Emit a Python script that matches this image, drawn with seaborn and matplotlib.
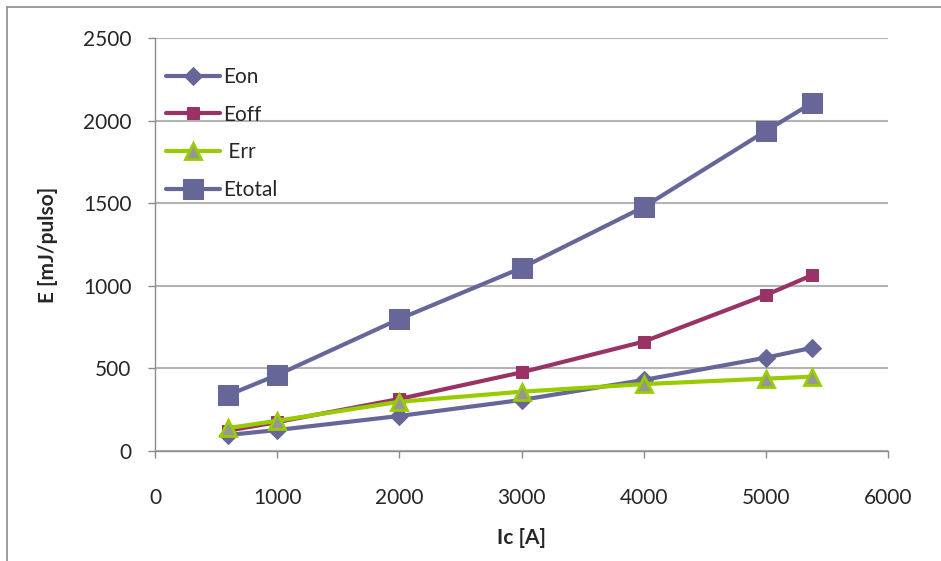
import matplotlib
matplotlib.use("Agg")
import matplotlib.pyplot as plt
from matplotlib.lines import Line2D
import seaborn as sns
import pandas as pd

# Switching energy per pulse versus collector current
ic = [600, 1000, 2000, 3000, 4000, 5000, 5380]
e_on = [97, 127, 212, 309, 430, 565, 625]
e_off = [123, 175, 315, 476, 662, 944, 1065]
e_rr = [139, 183, 298, 359, 405, 438, 450]
e_total = [339, 460, 799, 1108, 1477, 1937, 2107]

series_names = ["Eon", "Eoff", " Err", "Etotal"]
x_ticks = [0, 1000, 2000, 3000, 4000, 5000, 6000]
y_ticks = [0, 500, 1000, 1500, 2000, 2500]

sns.set_theme(style="white")
plt.rcParams["font.family"] = ["Lato", "DejaVu Sans"]

frames = []
for name, vals in zip(series_names, [e_on, e_off, e_rr, e_total]):
    frames.append(pd.DataFrame({"Ic": ic, "E": vals, "serie": name}))
df = pd.concat(frames, ignore_index=True)

styles = {
    "Eon": dict(color="#666699", marker="D", markersize=9,
                markerfacecolor="#666699", markeredgecolor="#666699"),
    "Eoff": dict(color="#993366", marker="s", markersize=8,
                 markerfacecolor="#993366", markeredgecolor="#993366"),
    " Err": dict(color="#99CC00", marker="^", markersize=11,
                 markerfacecolor="#969696", markeredgecolor="#99CC00",
                 markeredgewidth=2),
    "Etotal": dict(color="#666699", marker="s", markersize=14,
                   markerfacecolor="#666699", markeredgecolor="#666699"),
}

fig = plt.figure(figsize=(9.41, 5.61), dpi=100)
ax = fig.add_axes([155 / 941, 1 - 451 / 561, (888 - 155) / 941, (451 - 38) / 561])

for name in series_names:
    sub = df[df["serie"] == name]
    sns.lineplot(data=sub, x="Ic", y="E", ax=ax, label=name, linewidth=3,
                 estimator=None, sort=False, **styles[name])

ax.set_xlim(0, 6000)
ax.set_ylim(0, 2500)
ax.set_xticks(x_ticks)
ax.set_yticks(y_ticks)
ax.set_xticklabels([str(t) for t in x_ticks])
ax.set_yticklabels([str(t) for t in y_ticks])

ax.yaxis.grid(True, color="#b3b3b3", linewidth=1.5)
ax.xaxis.grid(False)
ax.set_axisbelow(True)

for side in ["top", "right"]:
    ax.spines[side].set_visible(False)
for side in ["left", "bottom"]:
    ax.spines[side].set_color("#8c8c8c")
    ax.spines[side].set_linewidth(1.0)

ax.tick_params(axis="x", direction="out", length=5, width=1, color="#8c8c8c",
               labelsize=15, pad=22, bottom=True)
ax.tick_params(axis="y", direction="out", length=5, width=1, color="#8c8c8c",
               labelsize=15, pad=12, left=True)

ax.set_xlabel("Ic [A]", fontsize=15, fontweight="bold", labelpad=14)
ax.set_ylabel("E [mJ/pulso]", fontsize=15, fontweight="bold", labelpad=18)

leg = ax.legend(loc="upper left", bbox_to_anchor=(-0.005, 0.965), frameon=False,
                fontsize=15, handlelength=2.6, labelspacing=0.85,
                handletextpad=0.15, borderaxespad=0.3)

# outer chart border (top and left edges)
fig.add_artist(Line2D([7 / 941, 1.0], [1 - 7 / 561, 1 - 7 / 561],
                      transform=fig.transFigure, color="#8c8c8c", linewidth=1.2))
fig.add_artist(Line2D([7 / 941, 7 / 941], [0.0, 1 - 7 / 561],
                      transform=fig.transFigure, color="#8c8c8c", linewidth=1.2))

fig.savefig("out.png", dpi=100, facecolor="white")
